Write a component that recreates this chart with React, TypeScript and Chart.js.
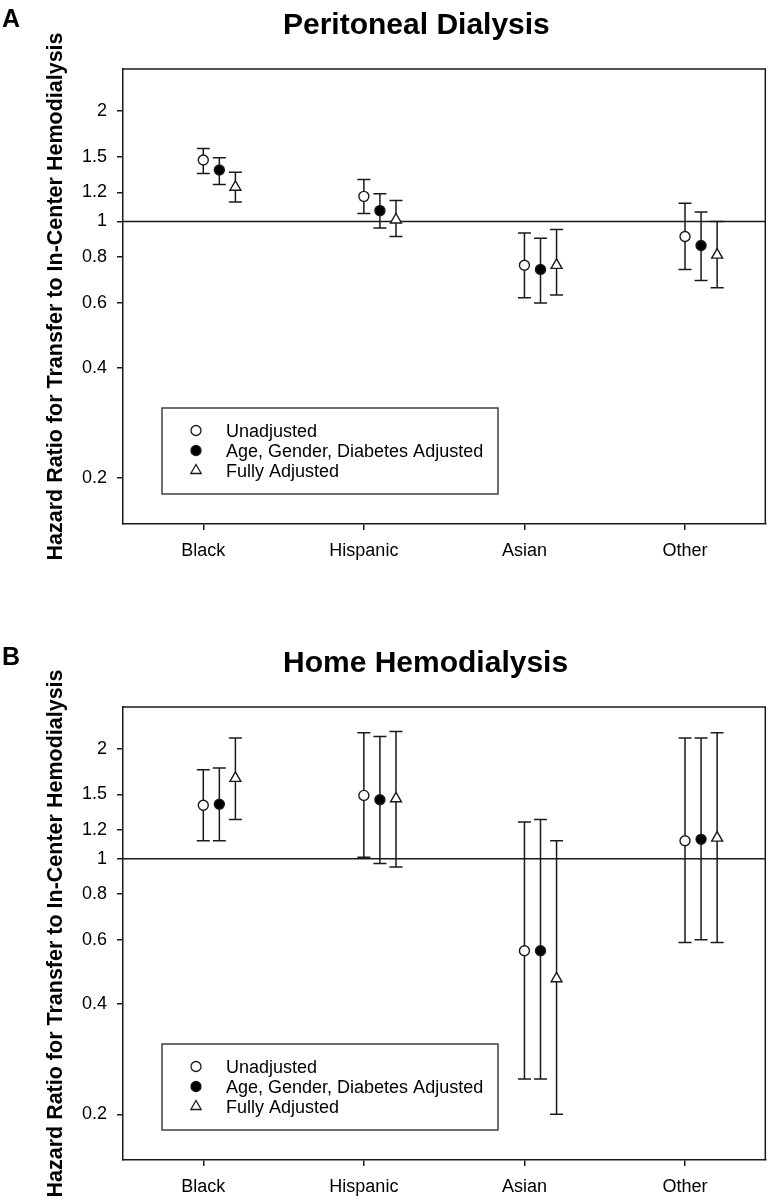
import React, { useEffect, useRef } from 'react';
import { Chart, registerables } from 'chart.js';

Chart.register(...registerables);

const FONT = '"Liberation Sans", Arial, Helvetica, sans-serif';
const INK = '#1a1a1a';

const categories = ['Black', 'Hispanic', 'Asian', 'Other'];
const seriesNames = ['Unadjusted', 'Age, Gender, Diabetes Adjusted', 'Fully Adjusted'];
const yTickValues = [0.2, 0.4, 0.6, 0.8, 1, 1.2, 1.5, 2];
const yMin = 0.15;
const yMax = 2.6;
const referenceHR = 1;
const yAxisTitle = 'Hazard Ratio for Transfer to In-Center Hemodialysis';

// Panel A - Peritoneal Dialysis (hazard ratio, lower CI, upper CI)
const pdUnadjusted = [1.47, 1.17, 0.76, 0.91];
const pdUnadjustedLow = [1.35, 1.05, 0.62, 0.74];
const pdUnadjustedHigh = [1.58, 1.3, 0.93, 1.12];
const pdPartial = [1.38, 1.07, 0.74, 0.86];
const pdPartialLow = [1.26, 0.96, 0.6, 0.69];
const pdPartialHigh = [1.49, 1.19, 0.9, 1.06];
const pdFull = [1.24, 1.01, 0.76, 0.81];
const pdFullLow = [1.13, 0.91, 0.63, 0.66];
const pdFullHigh = [1.36, 1.14, 0.95, 1.0];

// Panel B - Home Hemodialysis
const hhdUnadjusted = [1.4, 1.49, 0.56, 1.12];
const hhdUnadjustedLow = [1.12, 1.01, 0.25, 0.59];
const hhdUnadjustedHigh = [1.75, 2.21, 1.26, 2.14];
const hhdPartial = [1.41, 1.45, 0.56, 1.13];
const hhdPartialLow = [1.12, 0.97, 0.25, 0.6];
const hhdPartialHigh = [1.77, 2.16, 1.28, 2.14];
const hhdFull = [1.66, 1.46, 0.47, 1.14];
const hhdFullLow = [1.28, 0.95, 0.2, 0.59];
const hhdFullHigh = [2.14, 2.23, 1.12, 2.21];

const seriesOffsets = [0, 0.1, 0.2];
const seriesStyles = [
  { pointStyle: 'circle', fill: '#ffffff', radius: 5 },
  { pointStyle: 'circle', fill: '#000000', radius: 5 },
  { pointStyle: 'triangle', fill: '#ffffff', radius: 6.3 },
];

type PanelProps = {
  letter: string;
  title: string;
  hr: number[][];
  low: number[][];
  high: number[][];
  top: number;
  height: number;
  plotTop: number;
  plotBottom: number;
};

function drawMarker(ctx: CanvasRenderingContext2D, style: string, fill: string, x: number, y: number, r: number) {
  ctx.beginPath();
  if (style === 'circle') {
    ctx.arc(x, y, r, 0, Math.PI * 2);
  } else {
    let rad = 0;
    ctx.moveTo(x + Math.sin(rad) * r, y - Math.cos(rad) * r);
    rad += (2 * Math.PI) / 3;
    ctx.lineTo(x + Math.sin(rad) * r, y - Math.cos(rad) * r);
    rad += (2 * Math.PI) / 3;
    ctx.lineTo(x + Math.sin(rad) * r, y - Math.cos(rad) * r);
    ctx.closePath();
  }
  ctx.fillStyle = fill;
  ctx.fill();
  ctx.lineWidth = 1.3;
  ctx.strokeStyle = INK;
  ctx.stroke();
}

function Panel({ letter, title, hr, low, high, top, height, plotTop, plotBottom }: PanelProps) {
  const ref = useRef<HTMLCanvasElement>(null);

  useEffect(() => {
    const canvas = ref.current;
    if (!canvas) return;

    const datasets: any[] = hr.map((vals, s) => ({
      type: 'scatter',
      label: seriesNames[s],
      data: vals.map((v, i) => ({ x: i + seriesOffsets[s], y: v })),
      pointStyle: seriesStyles[s].pointStyle,
      pointRadius: seriesStyles[s].radius,
      pointHoverRadius: seriesStyles[s].radius,
      pointBackgroundColor: seriesStyles[s].fill,
      pointBorderColor: INK,
      pointBorderWidth: 1.4,
      showLine: false,
    }));
    datasets.push({
      type: 'line',
      label: 'reference',
      data: [
        { x: -0.5, y: referenceHR },
        { x: 3.5, y: referenceHR },
      ],
      borderColor: INK,
      borderWidth: 1.5,
      pointRadius: 0,
      fill: false,
    });

    const decor = {
      id: 'decor',
      beforeDatasetsDraw(chart: any) {
        const { ctx } = chart;
        const xs = chart.scales.x;
        const ys = chart.scales.y;
        const cap = 6.5;
        ctx.save();
        ctx.strokeStyle = INK;
        ctx.lineWidth = 1.5;
        for (let s = 0; s < hr.length; s++) {
          for (let i = 0; i < categories.length; i++) {
            const px = xs.getPixelForValue(i + seriesOffsets[s]);
            const pl = ys.getPixelForValue(low[s][i]);
            const ph = ys.getPixelForValue(high[s][i]);
            ctx.beginPath();
            ctx.moveTo(px, pl);
            ctx.lineTo(px, ph);
            ctx.moveTo(px - cap, pl);
            ctx.lineTo(px + cap, pl);
            ctx.moveTo(px - cap, ph);
            ctx.lineTo(px + cap, ph);
            ctx.stroke();
          }
        }
        ctx.restore();
      },
      afterDraw(chart: any) {
        const { ctx, chartArea: a } = chart;
        ctx.save();
        // top and right frame
        ctx.strokeStyle = INK;
        ctx.lineWidth = 1.5;
        ctx.beginPath();
        ctx.moveTo(a.left, a.top);
        ctx.lineTo(a.right, a.top);
        ctx.lineTo(a.right, a.bottom);
        ctx.stroke();

        // legend box
        const lw = 336;
        const lh = 86;
        const lx = a.left + 39;
        const ly = a.bottom - 30 - lh;
        ctx.fillStyle = '#ffffff';
        ctx.fillRect(lx, ly, lw, lh);
        ctx.strokeStyle = '#333333';
        ctx.lineWidth = 1.4;
        ctx.strokeRect(lx, ly, lw, lh);
        ctx.font = `18px ${FONT}`;
        ctx.textAlign = 'left';
        ctx.textBaseline = 'alphabetic';
        seriesNames.forEach((name, s) => {
          const baseline = ly + 29 + s * 20;
          const st = seriesStyles[s];
          drawMarker(ctx, st.pointStyle, st.fill, lx + 34, baseline - 6.5, st.pointStyle === 'circle' ? 5 : 6);
          ctx.fillStyle = '#000000';
          ctx.fillText(name, lx + 64, baseline);
        });

        // panel title
        ctx.fillStyle = '#000000';
        ctx.font = `bold 30px ${FONT}`;
        ctx.textAlign = 'left';
        ctx.fillText(title, 283, a.top - 35);

        // panel letter
        ctx.font = `bold 25px ${FONT}`;
        ctx.fillText(letter, 2, a.top - 42);

        // y-axis title
        ctx.font = `bold 21.5px ${FONT}`;
        ctx.translate(62, (a.top + a.bottom) / 2);
        ctx.rotate(-Math.PI / 2);
        ctx.textAlign = 'center';
        ctx.fillText(yAxisTitle, 0, 0);
        ctx.restore();
      },
    };

    const chart = new Chart(canvas, {
      type: 'scatter',
      data: { datasets },
      options: {
        animation: false,
        responsive: false,
        events: [],
        layout: { padding: { top: plotTop, right: 2, left: 0, bottom: 0 } },
        plugins: {
          legend: { display: false },
          tooltip: { enabled: false },
          title: { display: false },
        },
        scales: {
          x: {
            type: 'linear',
            min: -0.5,
            max: 3.5,
            afterBuildTicks: (s: any) => {
              s.ticks = categories.map((_, i) => ({ value: i }));
            },
            ticks: {
              callback: (v: any) => categories[Math.round(Number(v))] ?? '',
              font: { family: FONT, size: 18 },
              color: '#000000',
              padding: 10,
              maxRotation: 0,
              autoSkip: false,
            },
            grid: { drawOnChartArea: false, drawTicks: true, tickLength: 6, color: INK, lineWidth: 1.5 },
            border: { display: true, color: INK, width: 1.5 },
            afterFit: (s: any) => {
              s.height = height - plotBottom;
            },
          },
          y: {
            type: 'logarithmic',
            min: yMin,
            max: yMax,
            afterBuildTicks: (s: any) => {
              s.ticks = yTickValues.map((v) => ({ value: v }));
            },
            ticks: {
              callback: (v: any) => String(v),
              font: { family: FONT, size: 18 },
              color: '#000000',
              padding: 10,
              autoSkip: false,
            },
            grid: { drawOnChartArea: false, drawTicks: true, tickLength: 6, color: INK, lineWidth: 1.5 },
            border: { display: true, color: INK, width: 1.5 },
            afterFit: (s: any) => {
              s.width = 123;
            },
          },
        },
      } as any,
      plugins: [decor],
    });

    return () => chart.destroy();
  }, []);

  return (
    <canvas
      ref={ref}
      width={773}
      height={height}
      style={{ position: 'absolute', left: 0, top, width: 773, height, display: 'block' }}
    />
  );
}

export default function App() {
  return (
    <div style={{ position: 'absolute', left: 0, top: 0, width: 773, height: 1199, background: '#ffffff', overflow: 'hidden' }}>
      <Panel
        letter="A"
        title="Peritoneal Dialysis"
        hr={[pdUnadjusted, pdPartial, pdFull]}
        low={[pdUnadjustedLow, pdPartialLow, pdFullLow]}
        high={[pdUnadjustedHigh, pdPartialHigh, pdFullHigh]}
        top={0}
        height={600}
        plotTop={69}
        plotBottom={524}
      />
      <Panel
        letter="B"
        title="Home Hemodialysis"
        hr={[hhdUnadjusted, hhdPartial, hhdFull]}
        low={[hhdUnadjustedLow, hhdPartialLow, hhdFullLow]}
        high={[hhdUnadjustedHigh, hhdPartialHigh, hhdFullHigh]}
        top={600}
        height={599}
        plotTop={107}
        plotBottom={560}
      />
    </div>
  );
}
